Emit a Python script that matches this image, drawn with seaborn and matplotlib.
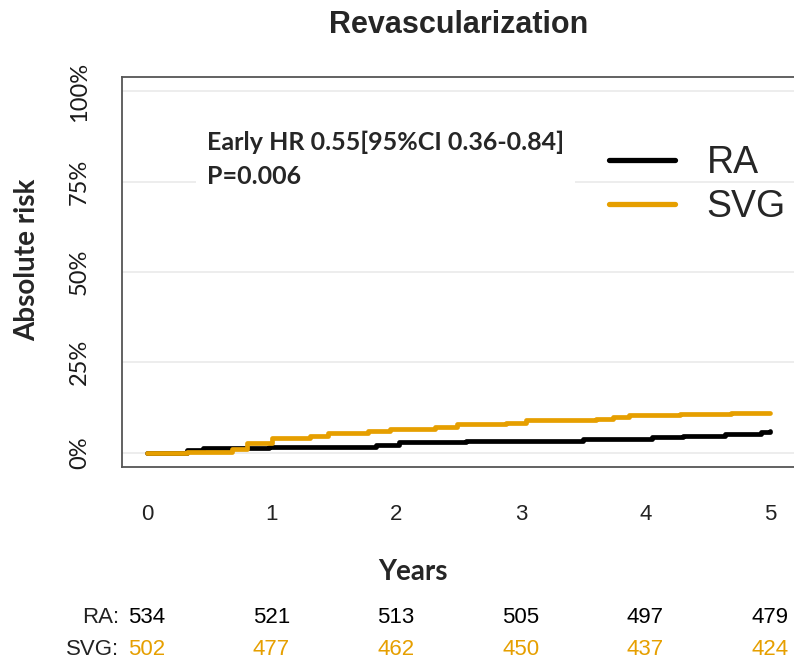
import matplotlib
matplotlib.use("Agg")
import matplotlib.pyplot as plt
import pandas as pd
import seaborn as sns
from matplotlib.lines import Line2D

# Cumulative incidence steps (years, % absolute risk)
ra_years = [0, 0.32, 0.45, 0.98, 1.84, 2.02, 2.56, 3.50, 4.05, 4.30, 4.64, 4.93, 5.0]
ra_risk = [0, 0.8, 1.2, 1.5, 2.1, 2.9, 3.3, 3.8, 4.4, 4.7, 5.2, 5.6, 5.9]
svg_years = [0, 0.32, 0.68, 0.80, 1.0, 1.31, 1.45, 1.77, 1.95, 2.31, 2.49, 2.67,
             2.88, 3.04, 3.60, 3.74, 3.87, 4.28, 4.69, 5.0]
svg_risk = [0, 0.2, 1.0, 2.6, 4.0, 4.7, 5.5, 6.1, 6.6, 7.2, 7.8, 8.0,
            8.2, 8.9, 9.4, 9.8, 10.4, 10.6, 10.9, 10.9]

groups = ["RA", "SVG"]
colors = {"RA": "black", "SVG": "#E69F00"}

# Numbers at risk
risk_times = [0, 1, 2, 3, 4, 5]
ra_at_risk = [534, 521, 513, 505, 497, 479]
svg_at_risk = [502, 477, 462, 450, 437, 424]

y_ticks = [0, 25, 50, 75, 100]
y_ticklabels = ["0%", "25%", "50%", "75%", "100%"]

df = pd.concat([
    pd.DataFrame({"Years": ra_years, "Risk": ra_risk, "Group": "RA"}),
    pd.DataFrame({"Years": svg_years, "Risk": svg_risk, "Group": "SVG"}),
])

sns.set_style("white")
plt.rcParams["font.family"] = ["Liberation Sans", "DejaVu Sans"]

fig = plt.figure(figsize=(7.94, 6.65), dpi=100)
ax = fig.add_axes([122 / 794, 198 / 665, 673 / 794, 390 / 665])

sns.lineplot(data=df, x="Years", y="Risk", hue="Group", hue_order=groups,
             palette=colors, drawstyle="steps-post", linewidth=3.4,
             estimator=None, errorbar=None, legend=False, ax=ax)

ax.set_xlim(-0.2, 5.2)
ax.set_ylim(-4, 104)
for yv in y_ticks:
    ax.axhline(yv, color="#EAEAEA", linewidth=1.2, zorder=0)

ax.set_xticks(risk_times)
ax.set_xticklabels([str(t) for t in risk_times], fontsize=16, color="#222222")
ax.set_yticks(y_ticks)
ax.set_yticklabels(y_ticklabels, rotation=90, va="center", fontsize=17,
                   family="Lato", color="#1a1a1a")
ax.tick_params(axis="x", length=11, width=1.3, color="#555555", pad=16, direction="out")
ax.tick_params(axis="y", length=12, width=1.3, color="#555555", pad=11, direction="out")
for side in ["left", "bottom", "top", "right"]:
    ax.spines[side].set_color("#555555")
    ax.spines[side].set_linewidth(1.3)

ax.set_title("Revascularization", fontsize=22, fontweight="bold", pad=32)
ax.set_xlabel("Years", fontsize=20, fontweight="bold", family="Lato")
ax.set_ylabel("Absolute risk", fontsize=20, fontweight="bold", family="Lato")
ax.xaxis.set_label_coords(0.432, -0.269)
ax.xaxis.label.set_va("center")
ax.yaxis.set_label_coords(-0.141, 0.531)
ax.yaxis.label.set_va("center")

ax.text(0.126, 0.862, "Early HR 0.55[95%CI 0.36-0.84]\nP=0.006", transform=ax.transAxes,
        fontsize=18, fontweight="bold", family="Lato", va="top", ha="left",
        linespacing=1.55, bbox=dict(facecolor="white", edgecolor="none", pad=8))

handles = [Line2D([], [], color=colors[g], linewidth=3.8) for g in groups]
ax.legend(handles, groups, loc="upper left", bbox_to_anchor=(0.7236, 0.825),
          frameon=False, fontsize=27, handlelength=1.75, handletextpad=0.85,
          labelspacing=0.2, borderpad=0, borderaxespad=0)

# Numbers at risk table below the axis
tr = ax.get_xaxis_transform()
rows = [("RA:", ra_at_risk, "black", -0.387), ("SVG:", svg_at_risk, "#E69F00", -0.469)]
for label, counts, col, yrow in rows:
    ax.text(-0.004, yrow, label, transform=ax.transAxes, ha="right", va="center",
            fontsize=16, color="#222222", clip_on=False)
    for t, n in zip(risk_times, counts):
        ax.text(t, yrow, str(n), transform=tr, ha="center", va="center",
                fontsize=16, color=col, clip_on=False)

fig.savefig("out.png", dpi=100)
